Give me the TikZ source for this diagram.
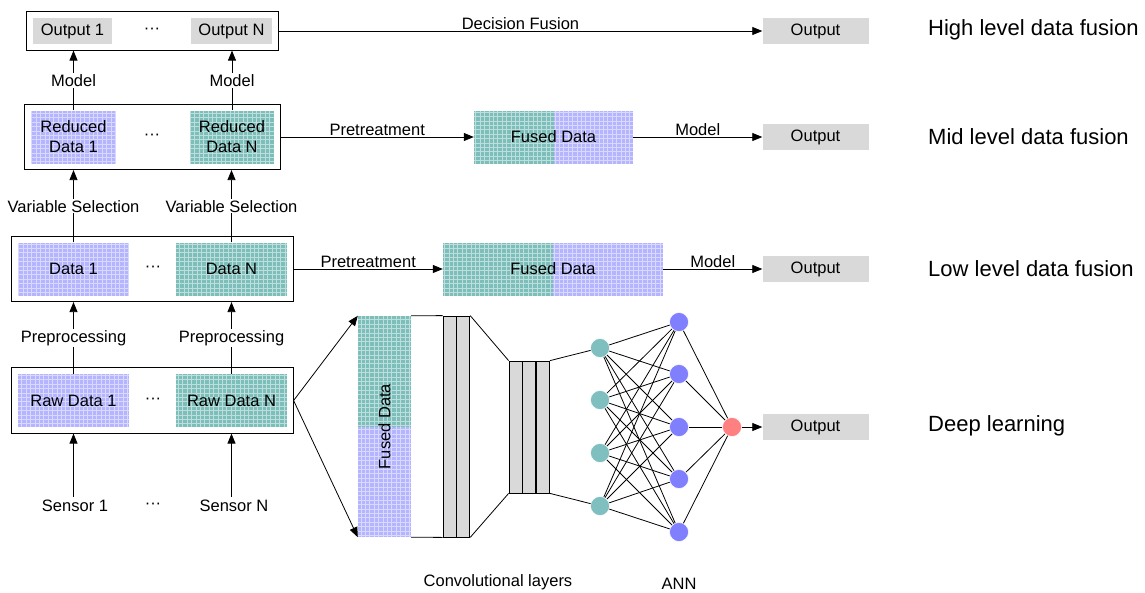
\documentclass[tikz,border=0pt]{standalone}
\usepackage{fontspec}
\setmainfont{Liberation Sans}
\usetikzlibrary{positioning,arrows.meta,fit,backgrounds,calc}

\definecolor{lilac}{RGB}{180,180,255}
\definecolor{seafoam}{RGB}{124,190,186}
\definecolor{nblue}{RGB}{128,128,255}
\definecolor{nteal}{RGB}{127,191,191}
\definecolor{nred}{RGB}{255,128,128}

\begin{document}
\begin{tikzpicture}[x=1pt, y=-1pt,
  txt/.style={font=\fontsize{16.5}{20}\selectfont, align=center},
  lvl/.style={font=\fontsize{22}{24}\selectfont, anchor=west, inner sep=0pt},
  mesh/.style={draw=white, opacity=0.5, line width=0.5pt, step=4.4pt},
  datbox/.style={txt, inner sep=0pt, minimum height=53pt, fill=#1,
    path picture={\draw[mesh] (path picture bounding box.south west) grid (path picture bounding box.north east);}},
  fusedh/.style={txt, inner sep=0pt, minimum height=53pt,
    path picture={
      \fill[seafoam] (path picture bounding box.north west) rectangle (path picture bounding box.south);
      \fill[lilac] (path picture bounding box.north) rectangle (path picture bounding box.south east);
      \draw[mesh] (path picture bounding box.south west) grid (path picture bounding box.north east);}},
  fusedv/.style={txt, inner sep=0pt, minimum width=53pt,
    path picture={
      \fill[seafoam] (path picture bounding box.north west) rectangle (path picture bounding box.east);
      \fill[lilac] (path picture bounding box.west) rectangle (path picture bounding box.south east);
      \draw[mesh] (path picture bounding box.south west) grid (path picture bounding box.north east);}},
  outbox/.style={txt, fill=black!15, inner sep=0pt, minimum height=26pt},
  group/.style={draw, line width=0.8pt, inner sep=6pt},
  convl/.style={draw, line width=0.8pt, fill=black!15, minimum width=13pt},
  neuron/.style={circle, fill=#1, draw=white, line width=0.5pt, minimum size=19pt, inner sep=0pt},
  lbl/.style={txt, fill=white, inner sep=1pt, midway},
  arr/.style={-{Triangle[length=10pt, width=8pt]}, line width=0.8pt},
  link/.style={line width=0.8pt}
]
\useasboundingbox (0,0) rectangle (1145,592);

% High level: one output per source
\node[outbox, minimum width=79pt] (out1) at (72.5,31) {Output 1};
\node[outbox, minimum width=81pt] (outN) at (231.5,31) {Output N};
\node[txt] (hdots) at (152,31) {···};
\node[group, fit=(out1)(outN)] (highbox) {};

% Mid level: reduced data
\node[datbox=lilac, minimum width=85pt] (red1) at (73.5,137) {Reduced\\Data 1};
\node[datbox=seafoam, minimum width=84pt] (redN) at (232,137) {Reduced\\Data N};
\node[txt] (mdots) at (152,137) {···};
\node[group, fit=(red1)(redN)] (midbox) {};

% Low level: full data
\node[datbox=lilac, minimum width=111pt] (data1) at (73.5,269) {Data 1};
\node[datbox=seafoam, minimum width=111pt] (dataN) at (231.5,269) {Data N};
\node[txt] (ldots) at (153,269) {···};
\node[group, fit=(data1)(dataN)] (lowbox) {};

% Raw data
\node[datbox=lilac, minimum width=111pt] (raw1) at (73.5,400.5) {Raw Data 1};
\node[datbox=seafoam, minimum width=111pt] (rawN) at (231.5,400.5) {Raw Data N};
\node[txt] (rdots) at (153,401) {···};
\node[group, fit=(raw1)(rawN)] (rawbox) {};

% Sensors
\node[txt] (sens1) at (75,506) {Sensor 1};
\node[txt] (sensN) at (234,506) {Sensor N};
\node[txt] (sdots) at (153,506) {···};

% Vertical steps
\draw[arr] (sens1.north -| raw1) -- (rawbox.south -| raw1);
\draw[arr] (sensN.north -| rawN) -- (rawbox.south -| rawN);
\draw[arr] (raw1.north) -- (lowbox.south -| raw1) node[lbl] {Preprocessing};
\draw[arr] (rawN.north) -- (lowbox.south -| rawN) node[lbl] {Preprocessing};
\draw[arr] (data1.north) -- (midbox.south -| data1) node[lbl] {Variable Selection};
\draw[arr] (dataN.north) -- (midbox.south -| dataN) node[lbl] {Variable Selection};
\draw[arr] (red1.north) -- (highbox.south -| red1) node[lbl] {Model};
\draw[arr] (redN.north) -- (highbox.south -| redN) node[lbl] {Model};

% Fused data and outputs
\node[fusedh, minimum width=159pt] (fusmid) at (553.5,137) {Fused Data};
\node[fusedh, minimum width=220pt] (fuslow) at (553,269) {Fused Data};
\node[outbox, minimum width=106pt] (outhigh) at (815.5,31) {Output};
\node[outbox, minimum width=106pt] (outmid) at (815.5,137) {Output};
\node[outbox, minimum width=106pt] (outlow) at (815.5,269) {Output};
\node[outbox, minimum width=106pt] (outdl) at (815.5,427) {Output};

\draw[arr] (highbox.east) -- (highbox.east -| outhigh.west) node[txt, midway, above, inner sep=1pt] {Decision Fusion};
\draw[arr] (midbox.east |- fusmid) -- (fusmid.west) node[txt, midway, above, inner sep=1pt] {Pretreatment};
\draw[arr] (fusmid.east) -- (outmid.west) node[txt, midway, above, inner sep=1pt] {Model};
\draw[arr] (lowbox.east |- fuslow) -- (fuslow.west) node[txt, midway, above, inner sep=1pt] {Pretreatment};
\draw[arr] (fuslow.east) -- (outlow.west) node[txt, midway, above, inner sep=1pt] {Model};

% Deep learning branch
\node[fusedv, minimum height=221pt] (fusdl) at (384.5,426.5) {\rotatebox{90}{Fused Data}};
\draw[arr] (rawbox.east) -- (fusdl.north west);
\draw[arr] (rawbox.east) -- (fusdl.south west);

\node[convl, minimum height=221pt] (cva) at (449.5,426.5) {};
\node[convl, minimum height=221pt, right=0pt of cva] (cvb) {};
\node[convl, minimum height=132pt] (cvc) at (515.5,427) {};
\node[convl, minimum height=132pt, right=0pt of cvc] (cvd) {};
\node[convl, minimum height=132pt, right=0pt of cvd] (cve) {};
\draw[link] (fusdl.north east) -- (cva.north west);
\draw[link] (fusdl.south east) -- (cva.south west);
\draw[link] (cvb.north east) -- (cvc.north west);
\draw[link] (cvb.south east) -- (cvc.south west);

% ANN
\foreach \i/\y in {1/348,2/400,3/453,4/506}
  \node[neuron=nteal] (h\i) at (600,\y) {};
\foreach \j/\y in {1/322,2/374,3/427,4/479,5/532}
  \node[neuron=nblue] (k\j) at (679,\y) {};
\node[neuron=nred] (yout) at (732,427) {};
\draw[link] (cve.north east) -- (h1);
\draw[link] (cve.south east) -- (h4);
\foreach \i in {1,...,4}
  \foreach \j in {1,...,5}
    \draw[link] (h\i) -- (k\j);
\foreach \j in {1,...,5}
  \draw[link] (k\j) -- (yout);
\draw[arr] (yout) -- (outdl.west);

\node[txt] (convlbl) at (498,582) {Convolutional layers};
\node[txt] (annlbl) at (679,584) {ANN};

% Fusion levels
\node[lvl] (lvlhigh) at (928,30) {High level data fusion};
\node[lvl] (lvlmid) at (928,137) {Mid level data fusion};
\node[lvl] (lvllow) at (928,269) {Low level data fusion};
\node[lvl] (lvldl) at (928,426) {Deep learning};

\end{tikzpicture}
\end{document}
